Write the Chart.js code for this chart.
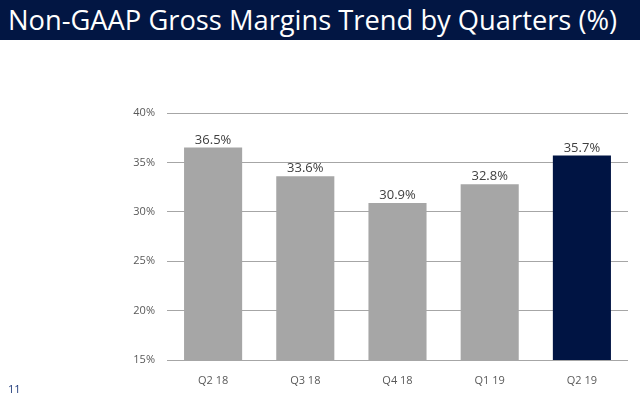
<html>
<head>
<title>Non-GAAP Gross Margins Trend by Quarters</title>
<script src="https://cdn.jsdelivr.net/npm/chart.js@4.4.0/dist/chart.umd.min.js"></script>
<style>
  body { margin: 0; width: 640px; height: 397px; position: relative; background: #ffffff; overflow: hidden; font-family: "Open Sans", sans-serif; }
  #titleBar { position: absolute; left: 0; top: 0; width: 640px; height: 40px; background: #021643; color: #ffffff; font-size: 27.3px; line-height: 40px; padding-left: 8px; box-sizing: border-box; white-space: nowrap; }
  #pageNum { position: absolute; left: 8px; top: 381px; font-size: 11px; color: #1f3a7a; }
  #chartBox { position: absolute; left: 0; top: 0; width: 640px; height: 397px; }
</style>
</head>
<body>
<div id="chartBox"><canvas id="marginChart"></canvas></div>
<div id="titleBar">Non-GAAP Gross Margins Trend by Quarters (%)</div>
<div id="pageNum">11</div>
<script>
var quarters = ["Q2 18", "Q3 18", "Q4 18", "Q1 19", "Q2 19"];
var margins = [36.5, 33.6, 30.9, 32.8, 35.7];
var barColors = ["#a6a6a6", "#a6a6a6", "#a6a6a6", "#a6a6a6", "#001443"];

// writes the value above each bar
var valueLabels = {
    id: "valueLabels",
    afterDatasetsDraw: function(chart) {
        var ctx = chart.ctx;
        var meta = chart.getDatasetMeta(0);
        ctx.save();
        ctx.font = "13px 'Open Sans', sans-serif";
        ctx.fillStyle = "#404040";
        ctx.textAlign = "center";
        ctx.textBaseline = "bottom";
        meta.data.forEach(function(bar, i) {
            ctx.fillText(margins[i].toFixed(1) + "%", bar.x, bar.y - 1);
        });
        ctx.restore();
    }
};

new Chart(document.getElementById("marginChart"), {
    type: "bar",
    data: {
        labels: quarters,
        datasets: [{
            data: margins,
            backgroundColor: barColors,
            categoryPercentage: 1.0,
            barPercentage: 0.63
        }]
    },
    options: {
        responsive: true,
        maintainAspectRatio: false,
        animation: false,
        layout: { padding: { top: 113, right: 12, left: 0, bottom: 0 } },
        plugins: { legend: { display: false }, tooltip: { enabled: false } },
        scales: {
            x: {
                grid: { display: false },
                border: { display: false },
                ticks: { color: "#595959", font: { family: "'Open Sans', sans-serif", size: 11 }, padding: 6 },
                afterFit: function(scale) { scale.height = 37; }
            },
            y: {
                min: 15,
                max: 40,
                ticks: {
                    stepSize: 5,
                    color: "#595959",
                    font: { family: "'Open Sans', sans-serif", size: 11 },
                    padding: 12,
                    callback: function(v) { return v + "%"; }
                },
                grid: { color: "#a6a6a6", lineWidth: 1, drawTicks: false },
                border: { display: false },
                afterFit: function(scale) { scale.width = 167; }
            }
        }
    },
    plugins: [valueLabels]
});
</script>
</body>
</html>
